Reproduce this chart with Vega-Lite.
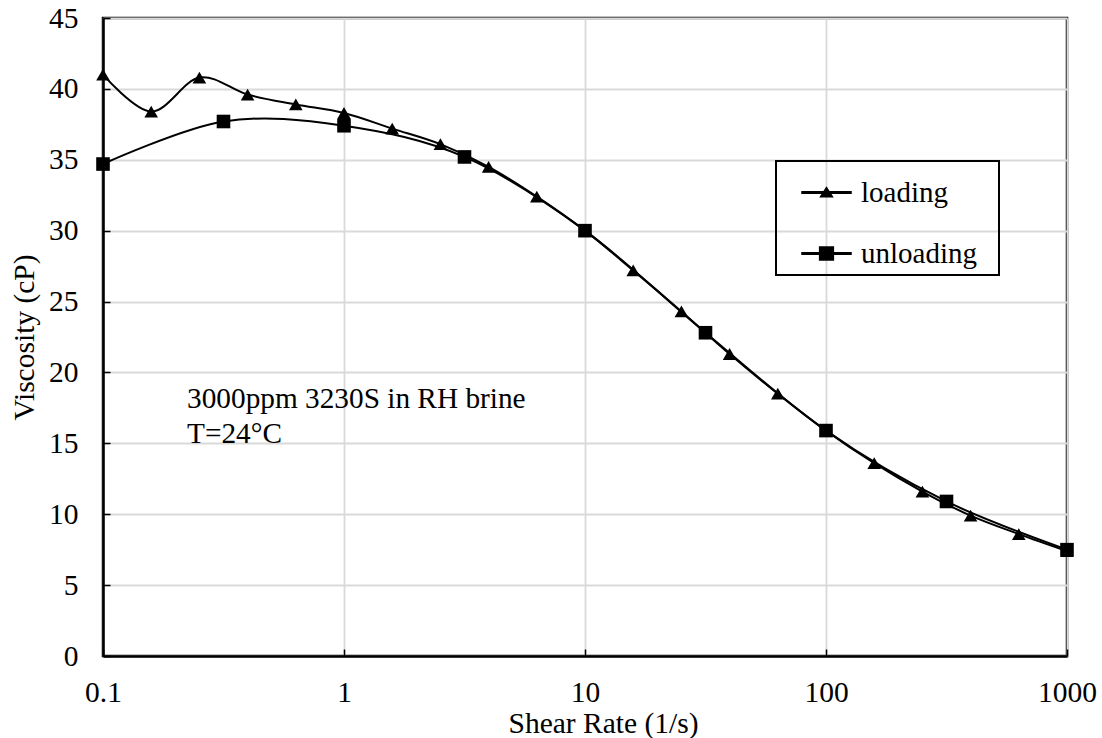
{
  "$schema": "https://vega.github.io/schema/vega-lite/v6.json",
  "width": 964,
  "height": 638,
  "autosize": {"type": "none"},
  "padding": {"left": 103, "top": 18, "right": 35, "bottom": 82},
  "background": "white",
  "config": {
    "font": "Liberation Serif",
    "view": {"stroke": "black", "strokeWidth": 2.5},
    "axis": {
      "labelFont": "Liberation Serif", "labelFontSize": 29.5, "labelColor": "black",
      "titleFont": "Liberation Serif", "titleFontSize": 29.5, "titleFontWeight": "normal", "titleColor": "black",
      "domainColor": "black", "domainWidth": 2.5,
      "tickColor": "black", "tickWidth": 1.5,
      "gridColor": "#d9d9d9", "gridWidth": 1.8,
      "labelFlush": false, "labelOverlap": false
    },
    "legend": {"strokeWidth": 2}
  },
  "datasets": {
    "curves": [
      {"series": "loading", "rate": 0.1, "viscosity": 41.0},
      {"series": "loading", "rate": 0.1585, "viscosity": 38.4},
      {"series": "loading", "rate": 0.2512, "viscosity": 40.8},
      {"series": "loading", "rate": 0.3981, "viscosity": 39.6},
      {"series": "loading", "rate": 0.631, "viscosity": 38.9},
      {"series": "loading", "rate": 1, "viscosity": 38.3},
      {"series": "loading", "rate": 1.585, "viscosity": 37.2},
      {"series": "loading", "rate": 2.512, "viscosity": 36.1},
      {"series": "loading", "rate": 3.981, "viscosity": 34.5},
      {"series": "loading", "rate": 6.31, "viscosity": 32.4},
      {"series": "loading", "rate": 10, "viscosity": 30.0},
      {"series": "loading", "rate": 15.85, "viscosity": 27.2},
      {"series": "loading", "rate": 25.12, "viscosity": 24.3},
      {"series": "loading", "rate": 39.81, "viscosity": 21.3},
      {"series": "loading", "rate": 63.1, "viscosity": 18.5},
      {"series": "loading", "rate": 100, "viscosity": 15.9},
      {"series": "loading", "rate": 158.5, "viscosity": 13.6},
      {"series": "loading", "rate": 251.2, "viscosity": 11.6},
      {"series": "loading", "rate": 398.1, "viscosity": 9.9},
      {"series": "loading", "rate": 631, "viscosity": 8.6},
      {"series": "loading", "rate": 1000, "viscosity": 7.4},
      {"series": "unloading", "rate": 0.1, "viscosity": 34.7},
      {"series": "unloading", "rate": 0.3162, "viscosity": 37.7},
      {"series": "unloading", "rate": 1, "viscosity": 37.4},
      {"series": "unloading", "rate": 3.162, "viscosity": 35.2},
      {"series": "unloading", "rate": 10, "viscosity": 30.0},
      {"series": "unloading", "rate": 31.62, "viscosity": 22.8},
      {"series": "unloading", "rate": 100, "viscosity": 15.9},
      {"series": "unloading", "rate": 316.2, "viscosity": 10.9},
      {"series": "unloading", "rate": 1000, "viscosity": 7.5}
    ],
    "notes": [
      {"rate": 0.2232, "viscosity": 17.5, "label": "3000ppm 3230S in RH brine"},
      {"rate": 0.2232, "viscosity": 15.03, "label": "T=24°C"}
    ]
  },
  "encoding": {
    "x": {
      "field": "rate", "type": "quantitative",
      "scale": {"type": "log", "domain": [0.1, 1000], "nice": false},
      "axis": {
        "values": [0.1, 1, 10, 100, 1000], "format": "~g", "grid": true,
        "tickSize": -7, "labelPadding": 29,
        "title": "Shear Rate (1/s)", "titleX": 500, "titleY": 76, "titleBaseline": "alphabetic"
      }
    },
    "y": {
      "field": "viscosity", "type": "quantitative",
      "scale": {"domain": [0, 45], "nice": false, "zero": true},
      "axis": {
        "values": [0, 5, 10, 15, 20, 25, 30, 35, 40, 45], "grid": true,
        "tickSize": -7, "labelPadding": 32,
        "title": "Viscosity (cP)", "titleX": -70, "titleY": 319, "titleAngle": -90,
        "titleBaseline": "alphabetic", "titleAlign": "center"
      }
    }
  },
  "layer": [
    {
      "data": {"name": "curves"},
      "mark": {"type": "line", "interpolate": "cardinal", "stroke": "black", "strokeWidth": 2},
      "encoding": {"detail": {"field": "series", "type": "nominal"}}
    },
    {
      "data": {"name": "curves"},
      "transform": [{"filter": "datum.series === 'loading'"}],
      "mark": {"type": "point", "shape": "triangle-up", "filled": true, "color": "black", "opacity": 1, "size": 185}
    },
    {
      "data": {"name": "curves"},
      "transform": [{"filter": "datum.series === 'unloading'"}],
      "mark": {"type": "point", "shape": "square", "filled": true, "color": "black", "opacity": 1, "size": 185}
    },
    {
      "data": {"name": "curves"},
      "transform": [{"filter": "false"}],
      "mark": {"type": "point", "filled": true, "fill": "black", "stroke": "black", "strokeWidth": 1.5, "opacity": 1},
      "encoding": {
        "shape": {
          "field": "series", "type": "nominal",
          "scale": {
            "domain": ["loading", "unloading"],
            "range": [
              "M-1,-0.03H1V0.03H-1ZM-0.24,0.17L0,-0.2L0.24,0.17Z",
              "M-1,-0.03H1V0.03H-1ZM-0.28,-0.27H0.28V0.27H-0.28Z"
            ]
          },
          "legend": {
            "orient": "none", "legendX": 673, "legendY": 143,
            "title": "\u00a0", "titleOrient": "right", "titlePadding": 16, "titleFontSize": 29,
            "strokeColor": "black", "padding": 6, "symbolOffset": 19,
            "symbolSize": 2401, "symbolOpacity": 1,
            "symbolFillColor": "black",
            "labelFont": "Liberation Serif", "labelFontSize": 29, "labelColor": "black",
            "labelOffset": 9, "rowPadding": 20,
            "encode": {
              "symbols": {
                "size": {"value": 2401},
                "fill": {"value": "black"},
                "opacity": {"value": 1}
              }
            }
          }
        }
      }
    },
    {
      "data": {"name": "notes"},
      "mark": {"type": "text", "align": "left", "baseline": "alphabetic", "font": "Liberation Serif", "fontSize": 29.3, "color": "black"},
      "encoding": {"text": {"field": "label", "type": "nominal"}}
    }
  ]
}
